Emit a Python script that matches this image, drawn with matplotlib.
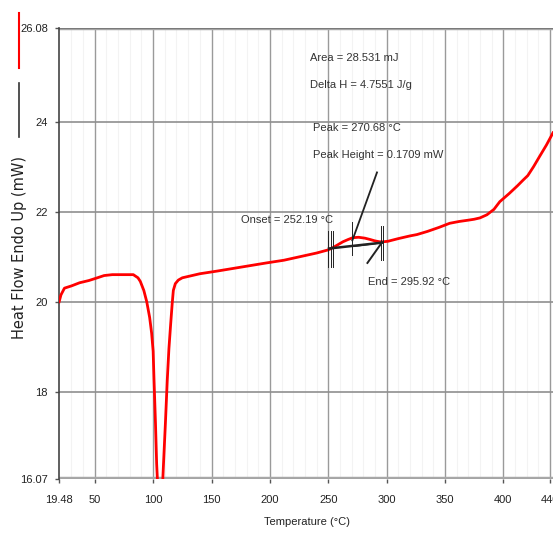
import matplotlib
matplotlib.use("Agg")
import matplotlib.pyplot as plt
from matplotlib.lines import Line2D

# DSC curve (temperature in degC, heat flow in mW)
temp = [19.48, 21, 24, 30, 37, 45, 51, 58, 65, 75, 83, 87, 89, 92, 94.5, 97,
        98.7, 100, 100.7, 102, 103, 104.5, 105.8, 107.5, 108.7, 110.5, 112.1,
        113.5, 115, 116.3, 117.3, 119, 121.6, 125, 130, 140, 155, 169, 183,
        197, 212, 226, 240, 250, 254, 258, 262.6, 267, 271, 276, 281.5, 286,
        290, 294, 297, 301, 310, 320, 326, 335, 345, 354, 362, 370, 375, 380,
        386, 392, 397, 405, 412, 417, 421, 426, 431, 437, 442.6]
heat_flow = [20.0, 20.15, 20.3, 20.35, 20.42, 20.47, 20.52, 20.58, 20.6, 20.6,
             20.6, 20.53, 20.45, 20.25, 20.0, 19.65, 19.3, 18.9, 18.3, 17.3,
             16.4, 15.6, 15.4, 15.6, 16.3, 17.3, 18.26, 18.95, 19.5, 19.95,
             20.25, 20.4, 20.48, 20.53, 20.56, 20.62, 20.68, 20.74, 20.8,
             20.86, 20.92, 21.0, 21.08, 21.15, 21.2, 21.26, 21.33, 21.38,
             21.42, 21.43, 21.41, 21.38, 21.35, 21.33, 21.33, 21.34, 21.4,
             21.46, 21.49, 21.56, 21.65, 21.74, 21.78, 21.81, 21.83, 21.86,
             21.93, 22.05, 22.22, 22.4, 22.57, 22.7, 22.8, 23.0, 23.22, 23.48,
             23.75]

xticks = [19.48, 50, 100, 150, 200, 250, 300, 350, 400, 440]
xtick_labels = ["19.48", "50", "100", "150", "200", "250", "300", "350", "400", "440"]
yticks = [16.07, 18, 20, 22, 24, 26.08]
ytick_labels = ["16.07", "18", "20", "22", "24", "26.08"]

onset_t, onset_y = 252.19, 21.18
peak_t, peak_y = 270.68, 21.36
end_t, end_y = 295.92, 21.31

plt.rcParams['font.family'] = ["Liberation Sans", "DejaVu Sans"]

fig = plt.figure(figsize=(5.53, 5.36), dpi=100)
ax = fig.add_axes([0.107, 0.107, 0.893, 0.841])
ax.set_xlim(19.48, 442.6)
ax.set_ylim(16.07, 26.08)

# faint minor grid every 10 degC
for t in range(30, 441, 10):
    if t % 50:
        ax.axvline(t, color='#f3f3f3', lw=0.8, zorder=0)
for t in xticks[1:]:
    ax.axvline(t, color='#9a9a9a', lw=1.0, zorder=1)
for v in yticks[1:-1]:
    ax.axhline(v, color='#8f8f8f', lw=1.2, zorder=1)
for v in (yticks[0], yticks[-1]):
    ax.axhline(v, color='#a8a8a8', lw=3.2, zorder=1)
    ax.axhline(v, color='#7a7a7a', lw=0.8, zorder=1)

for s in ['top', 'right', 'bottom']:
    ax.spines[s].set_visible(False)
ax.spines['left'].set_color('#444444')
ax.spines['left'].set_linewidth(1.2)

ax.set_xticks(xticks)
ax.set_xticklabels(xtick_labels, fontsize=8)
ax.set_yticks(yticks)
ax.set_yticklabels(ytick_labels, fontsize=8)
ax.tick_params(axis='both', length=3, width=1, color='#555555', pad=5, labelcolor='#222222')
ax.tick_params(axis='x', pad=9)

ax.plot(temp, heat_flow, color='#ff0000', lw=2.0, zorder=3)

# onset / peak / end markers
k = dict(color='#222222', lw=0.7, zorder=4)
for dt in (-2.1, 0, 2.1):
    ax.plot([onset_t + dt] * 2, [20.76, 21.58], **k)
ax.plot([peak_t] * 2, [21.03, 21.76], **k)
for dt in (-1.1, 1.0):
    ax.plot([end_t + dt] * 2, [20.92, 21.69], **k)
ax.plot([onset_t - 1.5, end_t], [onset_y, end_y], color='#222222', lw=1.8, zorder=4)
ax.plot([peak_t + 2, end_t], [onset_y + 0.05, end_y], color='#222222', lw=1.0, zorder=4)
ax.plot([end_t, 283.6], [end_y, 20.86], color='#222222', lw=1.4, zorder=4)
ax.plot([peak_t, 291.8], [peak_y, 22.87], color='#222222', lw=1.3, zorder=4)

tk = dict(fontsize=8, color='#333333', va='center', ha='left')
ax.text(234.4, 25.41, "Area = 28.531 mJ", **tk)
ax.text(234.4, 24.81, "Delta H = 4.7551 J/g", **tk)
ax.text(237.0, 23.85, "Peak = 270.68 °C", **tk)
ax.text(237.0, 23.25, "Peak Height = 0.1709 mW", **tk)
ax.text(175.0, 21.81, "Onset = 252.19 °C", **tk)
ax.text(284.4, 20.44, "End = 295.92 °C", **tk)

fig.text(0.555, 0.017, "Temperature (°C)", fontsize=8, ha='center', va='bottom',
         color='#222222')
fig.text(0.036, 0.539, "Heat Flow Endo Up (mW)", fontsize=10.5, rotation=90,
         ha='center', va='center', color='#222222', family=["DejaVu Sans"])

# series swatches at the far left
fig.add_artist(Line2D([0.034, 0.034], [1 - 13 / 536, 1 - 68 / 536],
                      color='#ff0000', lw=1.5))
fig.add_artist(Line2D([0.034, 0.034], [1 - 83 / 536, 1 - 137 / 536],
                      color='#333333', lw=1.2))

fig.savefig("out.png", dpi=100)
